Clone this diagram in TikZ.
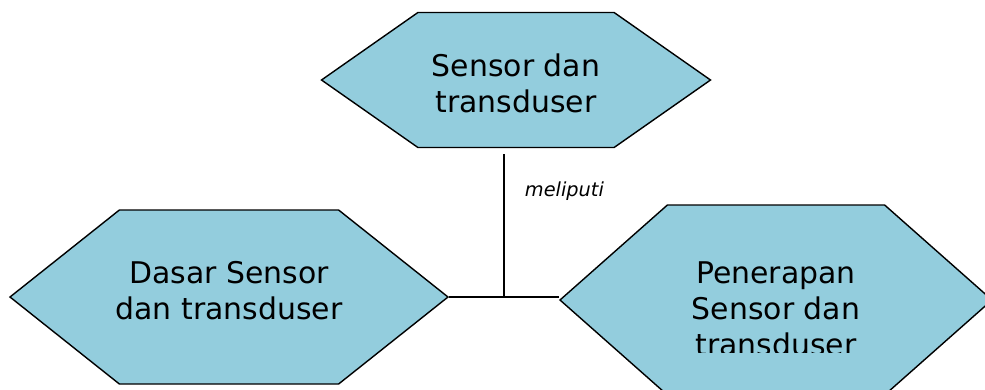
\documentclass[tikz,border=0pt]{standalone}
\usepackage{fontspec}
\setmainfont{DejaVu Sans}
\usepackage{tikz}
\usetikzlibrary{shapes.symbols, positioning}
\definecolor{hexblue}{RGB}{147,205,221}

\begin{document}
\begin{tikzpicture}[
  hexa/.style={signal, signal to=east and west, signal from=nowhere, draw, fill=hexblue, line width=0.8pt, inner sep=0pt},
  hextext/.style={font=\fontsize{17}{20.5}\selectfont, align=center, inner sep=0pt},
  link/.style={line width=1.1pt},
]
  \useasboundingbox (0,0) rectangle (19.7,7.78);

  \node[hexa, signal pointer angle=70, minimum width=7.78cm, minimum height=2.7cm] (sensor) at (10.32,6.18) {};
  \node[hextext] (sensortext) at (10.32,6.11) {Sensor dan\\transduser};

  \node[hexa, signal pointer angle=77, minimum width=8.76cm, minimum height=3.48cm] (dasar) at (4.58,1.84) {};
  \node[hextext] (dasartext) at (4.58,1.96) {Dasar Sensor\\dan transduser};

  \begin{scope}
    \clip (0,0) rectangle (19.7,7.78);
    \node[hexa, signal pointer angle=83, minimum width=8.64cm, minimum height=3.8cm] (terap) at (15.52,1.78) {};
  \end{scope}
  \begin{scope}
    \clip (11,0.74) rectangle (19.7,3.6);
    \node[hextext] (teraptext) at (15.52,1.6) {Penerapan\\Sensor dan\\transduser};
  \end{scope}

  \coordinate (hub) at (10.08,1.84);
  \draw[link, shorten <=0.12cm] (sensor.south -| hub) -- node[pos=0.29, right=0.4cm, inner sep=0pt, font=\fontsize{11}{13}\selectfont\itshape] (meliputi) {meliputi} (hub);
  \draw[link] (dasar.east) -- (dasar.east -| terap.west);
\end{tikzpicture}
\end{document}
